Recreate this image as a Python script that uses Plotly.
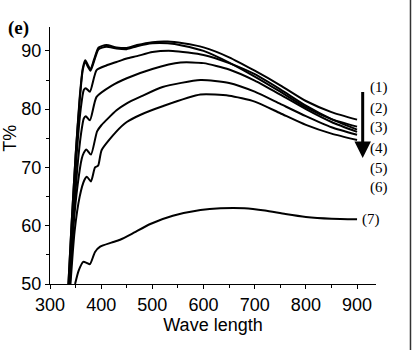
import plotly.graph_objects as go

# ---- data ----
wl_1 = [336, 342, 350, 358, 364, 369, 374, 379, 386, 395, 410, 430, 450, 470, 500, 530, 560, 600, 650, 700, 750, 800, 850, 900]
t_1 = [50, 60, 72, 82, 87, 88.4, 87.6, 86.8, 88.5, 90.6, 91.0, 90.6, 90.5, 91.0, 91.5, 91.6, 91.3, 90.6, 88.9, 86.6, 84.1, 81.4, 79.5, 78.2]

wl_2 = [336, 342, 350, 358, 364, 369, 374, 379, 386, 395, 410, 430, 450, 470, 500, 530, 560, 600, 650, 700, 750, 800, 850, 900]
t_2 = [50, 60, 72, 81.5, 86.7, 88.1, 87.3, 86.6, 88.2, 90.3, 90.7, 90.4, 90.3, 90.8, 91.3, 91.3, 90.9, 90.0, 88.0, 85.6, 83.0, 80.3, 78.3, 77.0]

wl_3 = [337, 344, 352, 360, 366, 370, 378, 391, 410, 430, 450, 470, 500, 540, 600, 650, 700, 750, 800, 850, 900]
t_3 = [50, 60, 72, 80, 83.3, 83.6, 83.0, 86.7, 87.5, 88.1, 88.7, 89.1, 89.8, 90.0, 89.3, 87.9, 86.0, 83.4, 80.6, 78.3, 76.5]

wl_4 = [338, 345, 353, 361, 366, 370, 378, 391, 420, 450, 500, 555, 600, 650, 700, 750, 800, 850, 900]
t_4 = [50, 60, 69.5, 76, 78.4, 78.8, 78.1, 82.1, 84.0, 85.3, 86.9, 88.0, 87.9, 86.8, 84.9, 82.5, 80.0, 77.8, 76.1]

wl_5 = [339, 346, 354, 362, 366, 371, 380, 392, 400, 430, 450, 476, 520, 594, 650, 700, 750, 800, 850, 900]
t_5 = [50, 60, 67, 71.5, 72.5, 73.1, 72.2, 76.2, 77.2, 79.8, 81.0, 82.1, 83.8, 85.0, 84.5, 83.0, 80.9, 78.8, 76.9, 75.6]

wl_6 = [340, 348, 358, 367, 372, 380, 388, 394, 401, 430, 450, 476, 520, 594, 650, 700, 750, 800, 850, 900]
t_6 = [50, 59, 65, 67.8, 68.4, 67.6, 70.0, 70.3, 73.0, 76.2, 77.8, 79.0, 80.5, 82.5, 82.3, 81.3, 79.3, 77.3, 75.8, 74.7]

wl_7 = [349, 356, 365, 372, 378, 388, 398, 420, 437, 460, 496, 540, 594, 633, 680, 720, 760, 800, 850, 900]
t_7 = [50, 52.3, 53.8, 53.6, 53.4, 55.5, 56.4, 57.1, 57.6, 58.6, 60.3, 61.7, 62.7, 63.0, 63.0, 62.6, 62.0, 61.5, 61.2, 61.1]

series_x = [wl_1, wl_2, wl_3, wl_4, wl_5, wl_6, wl_7]
series_y = [t_1, t_2, t_3, t_4, t_5, t_6, t_7]

curve_labels = ["(1)", "(2)", "(3)", "(4)", "(5)", "(6)", "(7)"]
label_y = [83.8, 80.2, 76.8, 73.3, 69.9, 66.5, 61.1]
label_x = [921, 921, 921, 921, 921, 921, 905]

x_ticks = [300, 400, 500, 600, 700, 800, 900]
y_ticks = [50, 60, 70, 80, 90]

fig = go.Figure()
for xs, ys in zip(series_x, series_y):
    fig.add_trace(go.Scatter(x=xs, y=ys, mode="lines",
                             line=dict(color="black", width=2, shape="spline", smoothing=0.6),
                             showlegend=False, hoverinfo="skip"))

for lab, lx, ly in zip(curve_labels, label_x, label_y):
    fig.add_annotation(x=lx, y=ly, text=lab, showarrow=False, xanchor="left",
                       font=dict(family="Liberation Serif", size=15, color="black"))

# downward arrow
fig.add_annotation(x=911, y=71.6, ax=911, ay=83.2, xref="x", yref="y",
                   axref="x", ayref="y", text="", showarrow=True,
                   arrowhead=2, arrowsize=1.1, arrowwidth=3, arrowcolor="black")

# panel label
fig.add_annotation(x=-0.135, y=0.996, xref="paper", yref="paper", text="<b>(e)</b>",
                   showarrow=False, xanchor="left", yanchor="middle",
                   font=dict(family="Liberation Serif", size=19, color="black"))

# y-axis title
fig.add_annotation(x=-0.125, y=0.566, xref="paper", yref="paper", text="T%",
                   showarrow=False, textangle=-90, xanchor="center", yanchor="middle",
                   font=dict(family="Liberation Sans", size=18, color="black"))

# image frame line at right edge
fig.add_shape(type="line", xref="paper", yref="paper", x0=1.1058, x1=1.1058,
              y0=-0.3, y1=1.2, line=dict(color="#333333", width=1.5))

fig.update_xaxes(range=[300, 937], tickvals=x_ticks, ticks="outside", ticklen=4,
                 tickwidth=1, tickcolor="black", showline=True, linecolor="black",
                 linewidth=1, showgrid=False, zeroline=False,
                 minor=dict(dtick=50, tick0=300, ticks="outside", ticklen=3, tickcolor="black"),
                 tickfont=dict(family="Liberation Sans", size=18, color="black"),
                 title=dict(text="Wave length", standoff=4,
                            font=dict(family="Liberation Sans", size=18, color="black")))
fig.update_yaxes(range=[50, 94.1], tickvals=y_ticks, ticks="outside", ticklen=4,
                 tickwidth=1, tickcolor="black", showline=True, linecolor="black",
                 linewidth=1, showgrid=False, zeroline=False,
                 minor=dict(dtick=5, tick0=50, ticks="outside", ticklen=3, tickcolor="black"),
                 tickfont=dict(family="Liberation Sans", size=18, color="black"))

fig.update_layout(width=412, height=350, margin=dict(l=50, r=36, t=27, b=66),
                  plot_bgcolor="white", paper_bgcolor="white")

fig.write_html("out.html")
